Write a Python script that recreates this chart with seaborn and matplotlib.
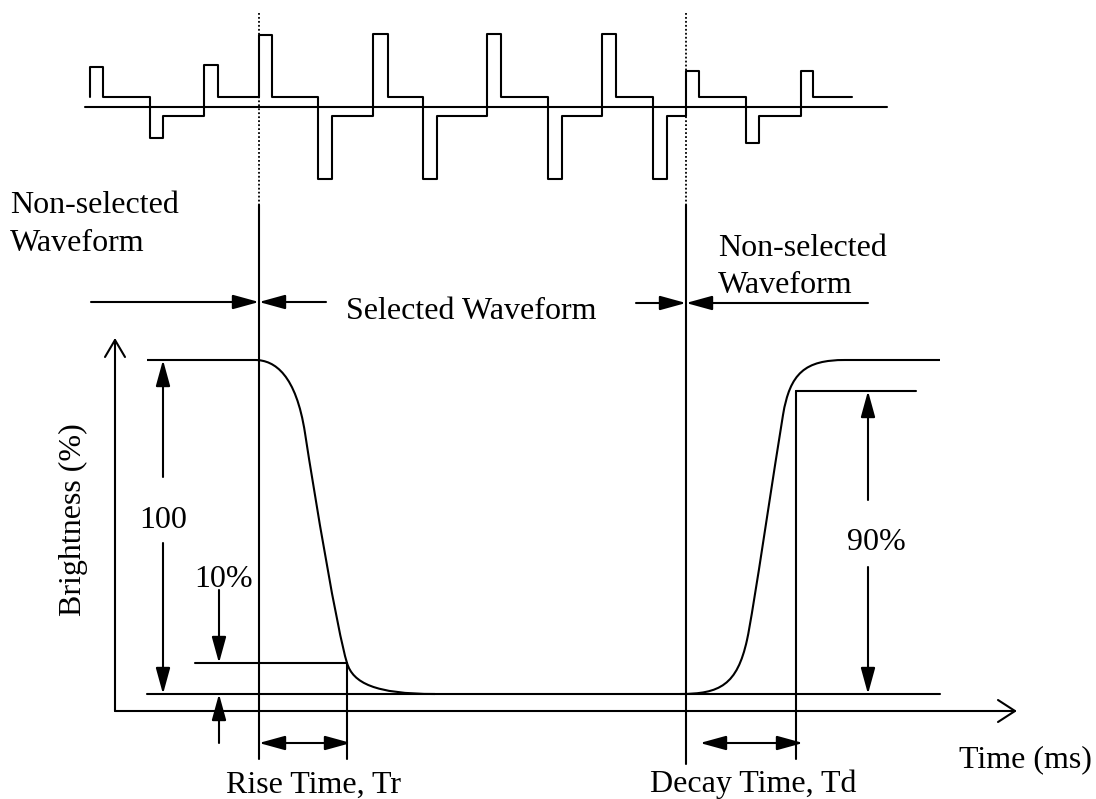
import matplotlib
matplotlib.use("Agg")
import matplotlib.pyplot as plt
from matplotlib.path import Path
from matplotlib.patches import PathPatch
import seaborn as sns

# drive waveform (top): level change positions and levels, pixel units
wave_t = [90, 90, 103, 150, 163, 204, 218, 259, 272, 318, 332, 373, 388, 423, 437,
          487, 501, 548, 562, 602, 616, 653, 667, 686, 699, 746, 759, 801, 813, 852]
wave_v = [97, 67, 97, 138, 116, 65, 97, 35, 97, 179, 116, 34, 97, 179, 116,
          34, 97, 179, 116, 34, 97, 179, 116, 71, 97, 143, 116, 71, 97, 97]
wave_zero = 107
wave_span = (85, 887)

# brightness response as bezier control points
fall_x = [147, 255, 275, 296, 305, 315, 337, 347, 353, 375, 435]
fall_y = [360, 360, 360, 375, 433, 498, 630, 663, 683, 694, 694]
rise_x = [680, 720, 737, 747, 753, 775, 783, 790, 805, 845, 940]
rise_y = [694, 694, 685, 640, 613, 463, 415, 373, 360, 360, 360]
C = Path.CURVE4
fall_codes = [Path.MOVETO, Path.LINETO, C, C, C, C, C, C, C, C, C]
rise_codes = [Path.MOVETO, C, C, C, C, C, C, C, C, C, Path.LINETO]

level_top = 360
level_bottom = 694
level_10 = 663
level_90 = 391
t_select_on = 259
t_select_off = 686
t_10 = 347
t_90 = 796

sns.set_theme(style="white")
plt.rcParams["font.family"] = ["Liberation Serif", "DejaVu Serif"]
plt.rcParams["text.color"] = "black"

fig = plt.figure(figsize=(10.96, 7.99), dpi=100)
ax = fig.add_axes([0, 0, 1, 1])
ax.set_xlim(0, 1096)
ax.set_ylim(799, 0)
ax.axis("off")

lw = 1.5
col = "black"

# top waveform
ax.plot(wave_span, [wave_zero, wave_zero], color=col, lw=lw)
sns.lineplot(x=wave_t, y=wave_v, sort=False, estimator=None, drawstyle="steps-post",
             color=col, lw=lw, ax=ax)

# dotted + solid markers for selection window
for xv in (t_select_on, t_select_off):
    ax.plot([xv, xv], [13, 205], color=col, lw=1.3, ls=(0, (1, 1.2)))
ax.plot([t_select_on] * 2, [205, 759], color=col, lw=lw)
ax.plot([t_select_off] * 2, [205, 764], color=col, lw=lw)

# axes with open arrowheads
ax.plot([115, 115], [711, 340], color=col, lw=lw)
ax.plot([105, 115, 125], [357, 340, 357], color=col, lw=lw)
ax.plot([115, 1015], [711, 711], color=col, lw=lw)
ax.plot([998, 1015, 998], [700, 711, 722], color=col, lw=lw)

# response curve
for xs, ys, codes in ((fall_x, fall_y, fall_codes), (rise_x, rise_y, rise_codes)):
    path = Path(list(zip(xs, ys)), codes)
    ax.add_patch(PathPatch(path, facecolor="none", edgecolor=col, lw=lw))

# reference levels
ax.plot([147, 940], [level_bottom] * 2, color=col, lw=lw)
ax.plot([195, t_10], [level_10] * 2, color=col, lw=lw)
ax.plot([t_10] * 2, [level_10, 759], color=col, lw=lw)
ax.plot([t_90, 916], [level_90] * 2, color=col, lw=lw)
ax.plot([t_90] * 2, [level_90, 759], color=col, lw=lw)


def arrow(x0, y0, x1, y1, style="-|>"):
    ax.annotate("", xy=(x1, y1), xytext=(x0, y0),
                arrowprops=dict(arrowstyle=style + ",head_length=0.8,head_width=0.22",
                                color=col, lw=lw, shrinkA=0, shrinkB=0,
                                mutation_scale=20))


arrow(91, 302, t_select_on, 302)
arrow(326, 302, t_select_on, 302)
arrow(636, 303, t_select_off, 303)
arrow(868, 303, t_select_off, 303)

arrow(163, 477, 163, level_top)
arrow(163, 543, 163, level_bottom)
arrow(219, 590, 219, level_10)
arrow(219, 743, 219, level_bottom)
arrow(868, 500, 868, level_90)
arrow(868, 567, 868, level_bottom)

arrow(t_select_on, 743, 351, 743, style="<|-|>")
arrow(700, 743, 803, 743, style="<|-|>")

fs = 23
ax.text(10, 213, "Non-selected", fontsize=fs, va="baseline")
ax.text(10, 251, "Waveform", fontsize=fs, va="baseline")
ax.text(346, 319, "Selected Waveform", fontsize=fs, va="baseline")
ax.text(718, 256, "Non-selected", fontsize=fs, va="baseline")
ax.text(718, 293, "Waveform", fontsize=fs, va="baseline")
ax.text(73, 520, "Brightness (%)", fontsize=fs, rotation=90, ha="center", va="center")
ax.text(163, 528, "100", fontsize=fs, ha="center", va="baseline")
ax.text(224, 587, "10%", fontsize=fs, ha="center", va="baseline")
ax.text(876, 550, "90%", fontsize=fs, ha="center", va="baseline")
ax.text(313, 793, "Rise Time, Tr", fontsize=fs, ha="center", va="baseline")
ax.text(753, 792, "Decay Time, Td", fontsize=fs, ha="center", va="baseline")
ax.text(1025, 767, "Time (ms)", fontsize=fs, ha="center", va="baseline")

fig.savefig("out.png", dpi=100, facecolor="white")
